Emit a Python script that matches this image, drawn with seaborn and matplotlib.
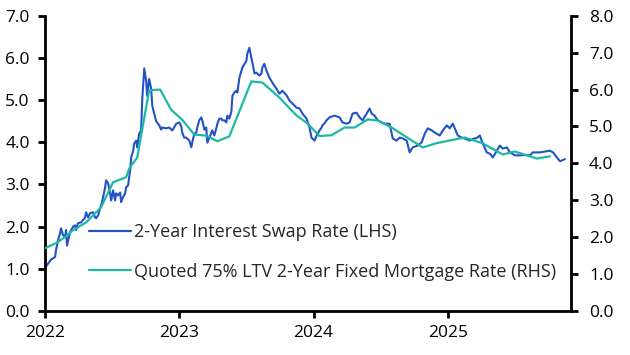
import matplotlib
matplotlib.use("Agg")
import matplotlib.pyplot as plt
import seaborn as sns
import pandas as pd
import numpy as np

# ---------------- data ----------------
swap_year = [
    2022.000, 2022.022, 2022.045, 2022.075, 2022.082, 2022.097, 2022.112, 2022.119, 2022.134, 2022.149,
    2022.157, 2022.164, 2022.187, 2022.209, 2022.224, 2022.231, 2022.246, 2022.269, 2022.299, 2022.306,
    2022.321, 2022.336, 2022.358, 2022.373, 2022.381, 2022.396, 2022.410, 2022.418, 2022.433, 2022.448,
    2022.455, 2022.470, 2022.485, 2022.493, 2022.507, 2022.522, 2022.530, 2022.545, 2022.560, 2022.567,
    2022.582, 2022.597, 2022.604, 2022.619, 2022.634, 2022.642, 2022.657, 2022.664, 2022.679, 2022.687,
    2022.701, 2022.716, 2022.724, 2022.739, 2022.754, 2022.761, 2022.776, 2022.791, 2022.799, 2022.813,
    2022.828, 2022.851, 2022.866, 2022.873, 2022.903, 2022.925, 2022.948, 2022.978, 2023.000, 2023.015,
    2023.022, 2023.037, 2023.052, 2023.075, 2023.090, 2023.097, 2023.112, 2023.127, 2023.134, 2023.149,
    2023.164, 2023.172, 2023.187, 2023.201, 2023.209, 2023.224, 2023.239, 2023.246, 2023.261, 2023.276,
    2023.284, 2023.299, 2023.313, 2023.321, 2023.336, 2023.351, 2023.358, 2023.373, 2023.388, 2023.396,
    2023.410, 2023.425, 2023.433, 2023.448, 2023.470, 2023.500, 2023.507, 2023.522, 2023.537, 2023.545,
    2023.560, 2023.575, 2023.597, 2023.612, 2023.619, 2023.634, 2023.649, 2023.672, 2023.694, 2023.724,
    2023.746, 2023.769, 2023.799, 2023.821, 2023.843, 2023.873, 2023.896, 2023.918, 2023.948, 2023.970,
    2023.985, 2024.007, 2024.030, 2024.045, 2024.060, 2024.067, 2024.082, 2024.097, 2024.119, 2024.157,
    2024.194, 2024.216, 2024.246, 2024.269, 2024.291, 2024.321, 2024.343, 2024.366, 2024.396, 2024.418,
    2024.433, 2024.455, 2024.478, 2024.507, 2024.530, 2024.567, 2024.590, 2024.619, 2024.642, 2024.664,
    2024.694, 2024.716, 2024.739, 2024.776, 2024.806, 2024.828, 2024.851, 2024.881, 2024.903, 2024.940,
    2024.963, 2024.993, 2025.015, 2025.037, 2025.052, 2025.075, 2025.104, 2025.127, 2025.164, 2025.187,
    2025.216, 2025.239, 2025.261, 2025.291, 2025.313, 2025.336, 2025.366, 2025.388, 2025.410, 2025.440,
    2025.463, 2025.500, 2025.537, 2025.575, 2025.612, 2025.634, 2025.664, 2025.687, 2025.724, 2025.761,
    2025.784, 2025.813, 2025.836, 2025.858, 2025.873,
]
swap_rate = [
    1.02, 1.12, 1.22, 1.28, 1.44, 1.68, 1.84, 1.96, 1.80, 1.75,
    1.92, 1.55, 1.87, 2.00, 2.03, 1.92, 2.08, 2.10, 2.22, 2.34,
    2.22, 2.32, 2.34, 2.22, 2.20, 2.27, 2.43, 2.50, 2.70, 2.93,
    3.10, 3.03, 2.79, 2.62, 2.86, 2.62, 2.79, 2.74, 2.81, 2.58,
    2.70, 2.79, 2.93, 2.98, 3.33, 3.64, 3.80, 3.97, 4.04, 3.88,
    4.20, 4.28, 4.99, 5.75, 5.45, 5.10, 5.50, 5.26, 4.87, 4.68,
    4.50, 4.40, 4.30, 4.35, 4.33, 4.35, 4.28, 4.44, 4.47, 4.38,
    4.23, 4.11, 4.11, 4.04, 3.88, 4.00, 4.20, 4.23, 4.35, 4.52,
    4.59, 4.52, 4.30, 4.35, 3.99, 4.10, 4.23, 4.28, 4.16, 4.33,
    4.44, 4.56, 4.56, 4.52, 4.52, 4.47, 4.63, 4.56, 4.72, 5.10,
    5.18, 5.22, 5.18, 5.53, 5.77, 5.93, 6.10, 6.24, 6.00, 5.89,
    5.63, 5.65, 5.58, 5.63, 5.77, 5.86, 5.70, 5.53, 5.41, 5.27,
    5.15, 5.22, 5.11, 4.99, 4.92, 4.82, 4.80, 4.68, 4.56, 4.35,
    4.11, 4.04, 4.20, 4.28, 4.35, 4.40, 4.45, 4.52, 4.59, 4.63,
    4.59, 4.47, 4.44, 4.47, 4.68, 4.70, 4.59, 4.52, 4.68, 4.80,
    4.68, 4.63, 4.52, 4.47, 4.44, 4.44, 4.09, 4.04, 4.11, 4.09,
    4.04, 3.76, 3.88, 3.92, 4.00, 4.20, 4.33, 4.28, 4.23, 4.16,
    4.28, 4.40, 4.33, 4.44, 4.33, 4.16, 4.11, 4.09, 4.04, 4.08,
    4.10, 4.16, 3.97, 3.76, 3.73, 3.64, 3.80, 3.92, 3.85, 3.88,
    3.76, 3.69, 3.69, 3.70, 3.69, 3.76, 3.76, 3.76, 3.78, 3.80,
    3.76, 3.64, 3.55, 3.58, 3.60,
]

mort_year = [
    2022.000, 2022.082, 2022.149, 2022.209, 2022.306, 2022.418, 2022.507, 2022.604, 2022.627, 2022.687,
    2022.776, 2022.858, 2022.940, 2023.022, 2023.112, 2023.201, 2023.284, 2023.373, 2023.537, 2023.619,
    2023.746, 2023.873, 2023.955, 2024.045, 2024.134, 2024.231, 2024.306, 2024.403, 2024.478, 2024.582,
    2024.813, 2024.910, 2025.015, 2025.127, 2025.261, 2025.410, 2025.500, 2025.664, 2025.761,
]
mort_rate = [
    1.70, 1.84, 2.00, 2.19, 2.40, 2.81, 3.49, 3.62, 3.86, 4.16,
    5.98, 6.00, 5.45, 5.18, 4.78, 4.75, 4.60, 4.73, 6.22, 6.19,
    5.78, 5.30, 5.08, 4.74, 4.76, 4.97, 4.97, 5.19, 5.16, 4.97,
    4.43, 4.54, 4.62, 4.70, 4.54, 4.24, 4.32, 4.13, 4.19,
]

x_ticks = [2022, 2023, 2024, 2025]
x_tick_labels = ["2022", "2023", "2024", "2025"]
left_ticks = [0, 1, 2, 3, 4, 5, 6, 7]
right_ticks = [0, 1, 2, 3, 4, 5, 6, 7, 8]
swap_label = "2-Year Interest Swap Rate (LHS)"
mort_label = "Quoted 75% LTV 2-Year Fixed Mortgage Rate (RHS)"

BLUE = "#2352c8"
TEAL = "#1cb9a3"

# ---------------- style ----------------
sns.set_style("ticks")
plt.rcParams["font.family"] = ["Open Sans", "DejaVu Sans"]
FS = 12.5
LFS = 13

swap_df = pd.DataFrame({"year": swap_year, "rate": swap_rate})
mort_df = pd.DataFrame({"year": mort_year, "rate": mort_rate})

fig = plt.figure(figsize=(6.3, 3.55), dpi=100)
ax = fig.add_axes([45 / 630, 1 - 311 / 355, (571 - 45) / 630, (311 - 15.7) / 355])
ax2 = ax.twinx()

sns.lineplot(data=swap_df, x="year", y="rate", ax=ax, color=BLUE, linewidth=1.5,
             label=swap_label, legend=False)
sns.lineplot(data=mort_df, x="year", y="rate", ax=ax2, color=TEAL, linewidth=1.6,
             label=mort_label, legend=False)

ax.set_xlim(2022, 2025.918)
ax.set_ylim(0, 7)
ax2.set_ylim(0, 8)
ax.set_xticks(x_ticks)
ax.set_xticklabels(x_tick_labels)
ax.set_yticks(left_ticks)
ax.set_yticklabels([f"{v:.1f}" for v in left_ticks])
ax2.set_yticks(right_ticks)
ax2.set_yticklabels([f"{v:.1f}" for v in right_ticks])
ax.set_xlabel("")
ax.set_ylabel("")
ax2.set_ylabel("")

for a in (ax, ax2):
    a.spines["top"].set_visible(False)
    for s in ("left", "right", "bottom"):
        a.spines[s].set_linewidth(2.0)
        a.spines[s].set_color("black")
    a.tick_params(axis="both", which="major", length=5, width=2.0, color="black",
                  labelsize=FS, labelcolor="black", direction="out")
    a.grid(False)
ax.spines["right"].set_visible(False)
ax2.spines["left"].set_visible(False)
ax2.spines["bottom"].set_visible(False)
ax.tick_params(axis="y", pad=6)
ax.tick_params(axis="x", pad=5)
ax2.tick_params(axis="y", pad=8)

h1, l1 = ax.get_legend_handles_labels()
h2, l2 = ax2.get_legend_handles_labels()
leg = fig.legend(h1 + h2, l1 + l2, loc="upper left",
                 bbox_to_anchor=(89 / 630, 1 - 223 / 355), frameon=False,
                 fontsize=LFS, handlelength=2.3, handletextpad=0.2, labelspacing=1.2,
                 borderaxespad=0, borderpad=0)
for line in leg.get_lines():
    line.set_linewidth(1.6)

fig.savefig("out.png", dpi=100)
